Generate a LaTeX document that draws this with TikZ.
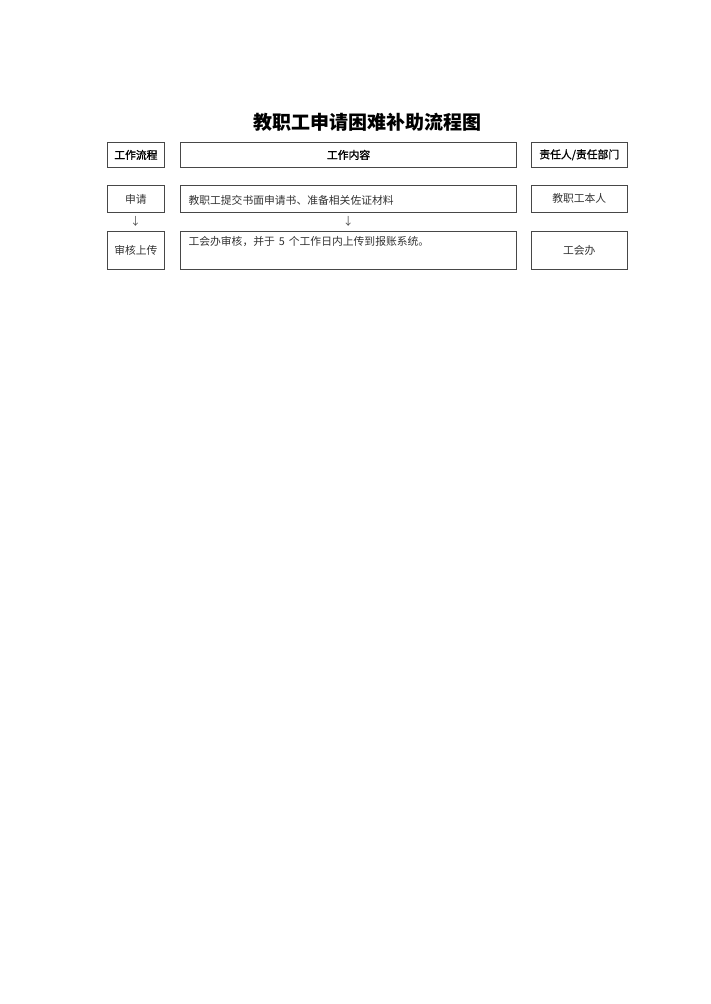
\documentclass[tikz,border=0pt]{standalone}
\usepackage{fontspec}
\setmainfont{Noto Sans CJK SC}
\newfontfamily\hdrfont[FakeBold=1.2]{Noto Sans CJK SC}
\begin{document}
\begin{tikzpicture}[x=1pt,y=-1pt,
  box/.style={draw=black!72, line width=0.8pt, inner sep=0pt, anchor=north west,
    font=\fontsize{10.8}{12}\selectfont, text=black!80},
  hbox/.style={box, font=\hdrfont\fontsize{10.8}{12}\selectfont, text=black},
  txt/.style={inner sep=0pt, anchor=west, font=\fontsize{10.8}{12}\selectfont, text=black!80},
  arr/.style={inner sep=0pt, font=\fontsize{10.8}{12}\selectfont, text=black!70}]
\useasboundingbox[fill=white] (0,0) rectangle (710,1004);
% title
\node[font=\fontsize{19}{22}\selectfont\bfseries, inner sep=0pt] (title) at (367,122.3) {教职工申请困难补助流程图};
% header row
\node[hbox, minimum width=57.6pt, minimum height=25.6pt] (h1) at (106.7,141.7) {工作流程};
\node[hbox, minimum width=335.7pt, minimum height=25.6pt] (h2) at (180.3,141.7) {工作内容};
\node[hbox, minimum width=96.3pt, minimum height=25.6pt] (h3) at (530.7,141.7) {责任人/责任部门};
% row 1
\node[box, minimum width=57.6pt, minimum height=27pt] (a1) at (106.7,185) {申请};
\node[box, minimum width=335.7pt, minimum height=27pt] (b1) at (180.3,185) {};
\node[txt] (b1t) at (188.3,200.7) {教职工提交书面申请书、准备相关佐证材料};
\node[box, minimum width=96.3pt, minimum height=27pt] (c1) at (530.7,185) {教职工本人};
% arrows
\node[arr] (ar1) at (135.5,221.5) {↓};
\node[arr] (ar2) at (348.3,221.5) {↓};
% row 2
\node[box, minimum width=57.6pt, minimum height=38.6pt] (a2) at (106.7,230.7) {审核上传};
\node[box, minimum width=335.7pt, minimum height=38.6pt] (b2) at (180.3,230.7) {};
\node[txt] (b2t) at (188.3,241.3) {工会办审核，并于\hspace{4pt}5\hspace{4pt}个工作日内上传到报账系统。};
\node[box, minimum width=96.3pt, minimum height=38.6pt] (c2) at (530.7,230.7) {工会办};
\end{tikzpicture}
\end{document}
